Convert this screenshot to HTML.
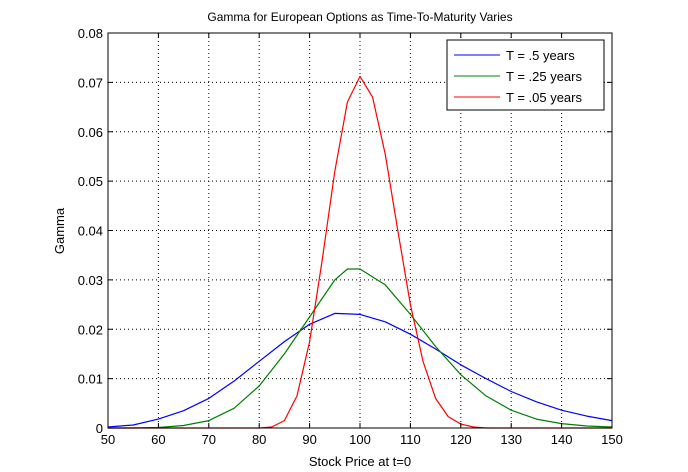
<!DOCTYPE html>
<html><head><meta charset="utf-8"><style>
body{margin:0;background:#fff;}
svg{display:block;font-family:"Liberation Sans",Arial,sans-serif;}
</style></head><body>
<svg id="chart" width="688" height="472">
<rect x="0" y="0" width="688" height="472" fill="#fff"/>
<g id="grid"></g>
<g id="series"></g>
<rect x="108" y="33" width="504" height="395" fill="none" stroke="#000" stroke-width="1"/>
<g id="ticks"></g>
<text x="360" y="21" font-size="12" text-anchor="middle">Gamma for European Options as Time-To-Maturity Varies</text>
<text x="360" y="466" font-size="13" text-anchor="middle">Stock Price at t=0</text>
<text x="64" y="231" font-size="13" text-anchor="middle" transform="rotate(-90 64 231)">Gamma</text>
<g>
<rect x="447" y="40" width="157" height="70" fill="#fff" stroke="#000"/>
<line x1="454" y1="55" x2="500" y2="55" stroke="#0000ff"/>
<text x="506" y="60" font-size="13">T = .5 years</text>
<line x1="454" y1="76" x2="500" y2="76" stroke="#008000"/>
<text x="506" y="81" font-size="13">T = .25 years</text>
<line x1="454" y1="97" x2="500" y2="97" stroke="#ff0000"/>
<text x="506" y="102" font-size="13">T = .05 years</text>
</g>
</svg>
<script>
const xTicks=[50,60,70,80,90,100,110,120,130,140,150];
const yTicks=[0,0.01,0.02,0.03,0.04,0.05,0.06,0.07,0.08];
const yTickLabels=["0","0.01","0.02","0.03","0.04","0.05","0.06","0.07","0.08"];
const blueX=[50,55,60,65,70,75,80,85,90,95,100,105,110,115,120,125,130,135,140,145,150];
const blueY=[0.0002,0.0006,0.0018,0.0035,0.006,0.0095,0.0135,0.0175,0.021,0.0232,0.023,0.0215,0.019,0.016,0.0128,0.01,0.0074,0.0053,0.0036,0.0024,0.0015];
const greenX=[50,55,60,65,70,75,80,85,90,95,97.5,100,105,110,115,120,125,130,135,140,145,150];
const greenY=[0,0,0.0001,0.0005,0.0015,0.004,0.0085,0.015,0.0225,0.03,0.0322,0.0322,0.029,0.023,0.0165,0.0108,0.0065,0.0036,0.0018,0.0009,0.0004,0.0002];
const redX=[50,60,70,77.5,80,82.5,85,87.5,90,92.5,95,97.5,100,102.5,105,107.5,110,112.5,115,117.5,120,122.5,125,130,140,150];
const redY=[0,0,0,0,0,0.0002,0.0015,0.0065,0.0175,0.034,0.052,0.066,0.0712,0.067,0.0555,0.04,0.025,0.0135,0.006,0.0023,0.0008,0.0002,0,0,0,0];
const NS="http://www.w3.org/2000/svg";
const X0=108,X1=612,Y0=428,Y1=33;
function sx(v){return X0+(v-50)/100*(X1-X0);}
function sy(v){return Y0-v/0.08*(Y0-Y1);}
function mk(t,a,p){const e=document.createElementNS(NS,t);for(const k in a)e.setAttribute(k,a[k]);p.appendChild(e);return e;}
const grid=document.getElementById('grid'),ticks=document.getElementById('ticks'),series=document.getElementById('series');
xTicks.forEach((v,i)=>{
  const x=sx(v);
  if(i>0&&i<xTicks.length-1){const g=mk('line',{x1:x,y1:Y1,x2:x,y2:Y0,stroke:'#000','stroke-dasharray':'1,3','stroke-width':1},grid);
  
  }
  mk('line',{x1:x,y1:Y0,x2:x,y2:Y0-5,stroke:'#000'},ticks);
  mk('line',{x1:x,y1:Y1,x2:x,y2:Y1+5,stroke:'#000'},ticks);
  const t=mk('text',{x:x,y:Y0+16,'font-size':13,'text-anchor':'middle'},ticks);t.textContent=v;
  
  
});
yTicks.forEach((v,i)=>{
  const y=sy(v);
  if(i>0&&i<yTicks.length-1){const g=mk('line',{x1:X0,y1:y,x2:X1,y2:y,stroke:'#000','stroke-dasharray':'1,3','stroke-width':1},grid);
  
  }
  mk('line',{x1:X0,y1:y,x2:X0+5,y2:y,stroke:'#000'},ticks);
  mk('line',{x1:X1,y1:y,x2:X1-5,y2:y,stroke:'#000'},ticks);
  const t=mk('text',{x:X0-5,y:y+5,'font-size':13,'text-anchor':'end'},ticks);t.textContent=yTickLabels[i];
  
  
});
function line(xs,ys,c,name){
  const d=xs.map((x,i)=>(i?'L':'M')+sx(x).toFixed(1)+','+sy(ys[i]).toFixed(1)).join(' ');
  const p=mk('path',{d:d,fill:'none',stroke:c,'stroke-width':1.2,'stroke-linejoin':'round'},series);
  
  
}
line(blueX,blueY,'#0000ff','series-t05');
line(greenX,greenY,'#008000','series-t025');
line(redX,redY,'#ff0000','series-t005');
</script>
</body></html>
